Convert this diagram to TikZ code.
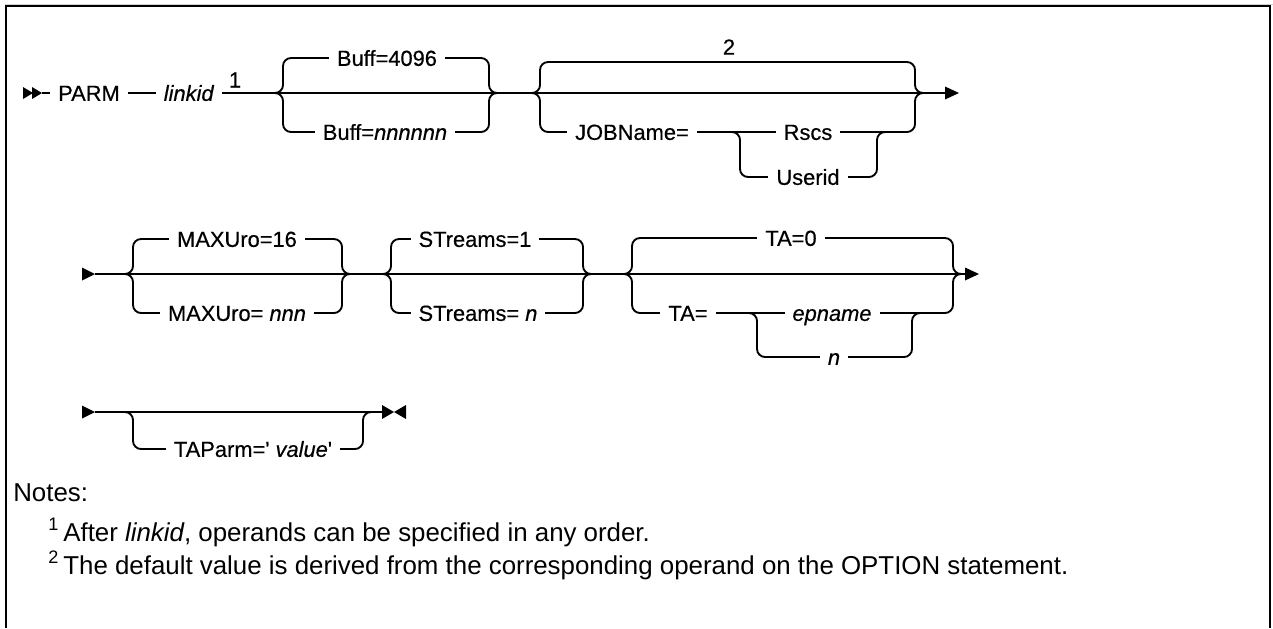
\documentclass[tikz,border=0pt]{standalone}
\usepackage{fontspec}
\setmainfont{Liberation Sans}
\newfontfamily\dfam[FakeBold=0.45]{Liberation Sans}
\newcommand\dfont{\dfam\fontsize{16.4}{19}\selectfont}
\newcommand\nfont{\fontsize{19.4}{23}\selectfont}
\tikzset{
  track/.style={line width=1.4pt, rounded corners=6pt},
  frameline/.style={line width=1.5pt},
  lbl/.style={fill=white, inner xsep=6pt, inner ysep=2pt, text height=11.8pt, text depth=0pt, font=\dfont, anchor=center},
  numlbl/.style={inner sep=0pt, font=\dfont, anchor=center},
  notetext/.style={inner sep=0pt, font=\nfont, anchor=base west},
  tip/.style={fill=black}
}
\begin{document}
\begin{tikzpicture}[x=0.75pt,y=-0.75pt]
\useasboundingbox (0,0) rectangle (1273,628);
% frame
\draw[gray!35, line width=0.75pt] (5,4) -- (1273,4);
\draw[frameline] (6,628) -- (6,6) -- (1270,6) -- (1270,628);

% ---------- row 1 ----------
\coordinate (r1s) at (42,93);
\coordinate (r1e) at (945,93);
\draw[track] (r1s) -- (r1e);
\fill[tip] (23,87) -- (33,93) -- (23,99) -- cycle;
\fill[tip] (32,87) -- (42,93) -- (32,99) -- cycle;
\fill[tip] (945,86.5) -- (959,93) -- (945,99.5) -- cycle;
% Buff group
\draw[track] (275,93) -| (283,58) -| (489,93) -- (497,93);
\draw[track] (275,93) -| (283,132) -| (489,93) -- (497,93);
% JOBName group
\draw[track] (532,93) -| (540,62) -| (915,93) -- (923,93);
\draw[track] (532,93) -| (540,132) -| (915,93) -- (923,93);
\draw[track] (732,132) -| (740,177) -| (877,132) -- (885,132);

\node[lbl] (parm) at (89,93) {PARM};
\node[lbl] (linkid) at (189,93) {\textit{linkid}};
\node[numlbl] (fn1) at (235,80) {1};
\node[lbl] (buffdef) at (387,58) {Buff=4096};
\node[lbl] (buffn) at (385,132) {Buff=\textit{nnnnnn}};
\node[numlbl, fill=white, inner xsep=1pt, inner ysep=1pt] (fn2) at (729,47) {2};
\node[lbl] (jobname) at (632,132) {JOBName=};
\node[lbl] (rscs) at (808,132) {Rscs};
\node[lbl] (userid) at (808,177) {Userid};

% ---------- row 2 ----------
\coordinate (r2s) at (95,274);
\coordinate (r2e) at (965,274);
\fill[tip] (82,267.5) -- (95,274) -- (82,280.5) -- cycle;
\draw[track] (r2s) -- (r2e);
\fill[tip] (965,267.5) -- (979,274) -- (965,280.5) -- cycle;
% MAXUro
\draw[track] (125,274) -| (133,239) -| (342,274) -- (350,274);
\draw[track] (125,274) -| (133,313) -| (342,274) -- (350,274);
% STreams
\draw[track] (383,274) -| (391,239) -| (583,274) -- (591,274);
\draw[track] (383,274) -| (391,313) -| (583,274) -- (591,274);
% TA
\draw[track] (624,274) -| (632,238) -| (953,274) -- (961,274);
\draw[track] (624,274) -| (632,313) -| (953,274) -- (961,274);
\draw[track] (749,313) -| (757,357) -| (912,313) -- (920,313);

\node[lbl] (maxdef) at (237,239) {MAXUro=16};
\node[lbl] (maxn) at (237,313) {MAXUro= \textit{nnn}};
\node[lbl] (strdef) at (475,239) {STreams=1};
\node[lbl] (strn) at (478,313) {STreams= \textit{n}};
\node[lbl] (tadef) at (791,238) {TA=0};
\node[lbl] (taeq) at (688,313) {TA=};
\node[lbl] (epname) at (832,313) {\textit{epname}};
\node[lbl] (tan) at (834,357) {\textit{n}};

% ---------- row 3 ----------
\coordinate (r3s) at (95,412);
\coordinate (r3e) at (382,412);
\fill[tip] (82,405.5) -- (95,412) -- (82,418.5) -- cycle;
\draw[track] (r3s) -- (r3e);
\fill[tip] (382,405) -- (394,412) -- (382,419) -- cycle;
\fill[tip] (406,405) -- (394,412) -- (406,419) -- cycle;
\draw[track] (125,412) -| (133,449) -| (363,412) -- (371,412);
\node[lbl] (taparm) at (253,449) {TAParm=' \textit{value}'};

% ---------- notes ----------
\node[notetext] (notes) at (13,501) {Notes:};
\node[notetext] (note1) at (48,541) {\textsuperscript{1}\,After \textit{linkid}, operands can be specified in any order.};
\node[notetext] (note2) at (48,574) {\textsuperscript{2}\,The default value is derived from the corresponding operand on the OPTION statement.};
\end{tikzpicture}
\end{document}
